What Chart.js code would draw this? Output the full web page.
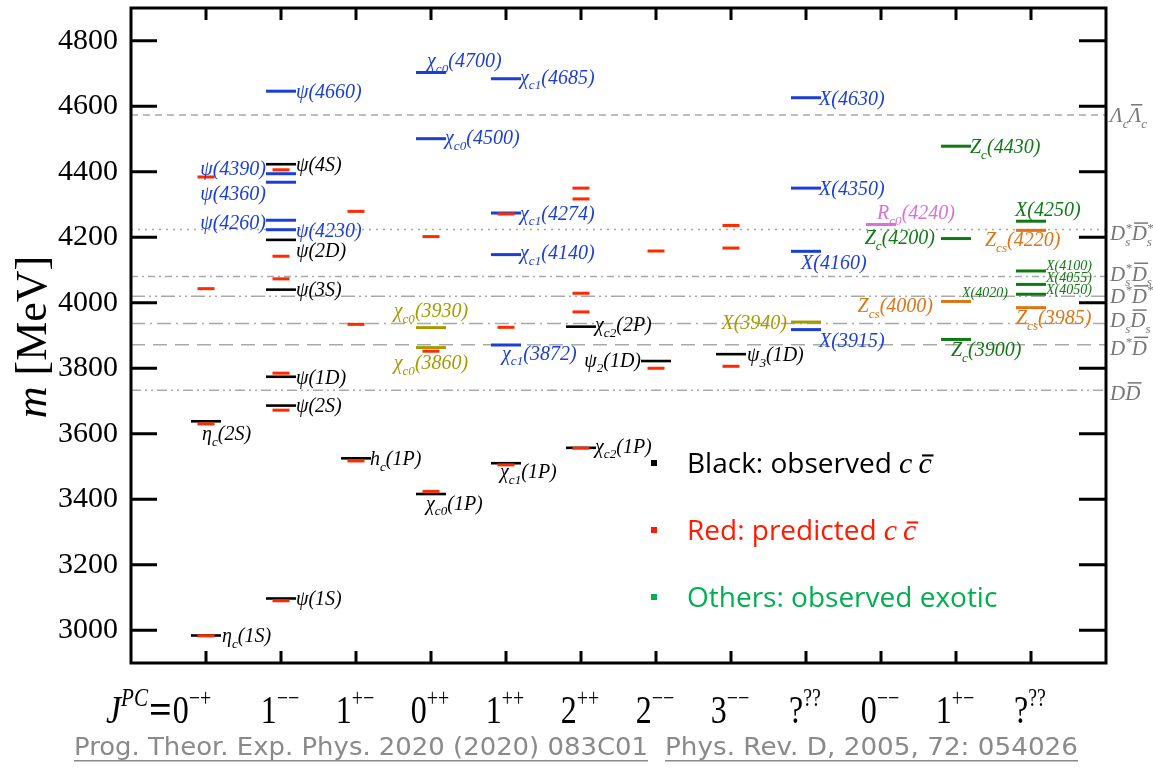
<!DOCTYPE html>
<html><head><meta charset="utf-8">
<script src="https://cdn.jsdelivr.net/npm/chart.js@4.4.1/dist/chart.umd.min.js"></script>
<style>html,body{margin:0;padding:0;background:#fff;overflow:hidden}canvas{display:block}</style>
</head><body><canvas id="c" width="1153" height="768"></canvas>
<script>
// ---------------- DATA ----------------
const jpcLabels = ['0^{−+}','1^{−−}','1^{+−}','0^{++}','1^{++}','2^{++}','2^{−−}','3^{−−}','?^{??}','0^{−−}','1^{+−}','?^{??}'];
const yTickValues = [3000,3200,3400,3600,3800,4000,4200,4400,4600,4800];

const observedCat  = [0,0,1,1,1,1,1,1,2,3,4,5,5,6,7];
const observedMass = [2984,3638,3097,3686,3774,4040,4192,4423,3525,3416,3510,3557,3927,3822,3843];
const observedName = ['η_{c}(1S)','η_{c}(2S)','ψ(1S)','ψ(2S)','ψ(1D)','ψ(3S)','ψ(2D)','ψ(4S)','h_{c}(1P)','χ_{c0}(1P)','χ_{c1}(1P)','χ_{c2}(1P)','χ_{c2}(2P)','ψ_{2}(1D)','ψ_{3}(1D)'];

const predictedCat  = [0,0,0,0, 1,1,1,1,1,1, 2,2,2, 3,3,3, 4,4,4, 5,5,5,5,5, 6,6, 7,7,7];
const predictedMass = [2983,3630,4043,4384, 3090,3672,3785,4073,4142,4406, 3517,3934,4279, 3424,3852,4202, 3505,3925,4271, 3556,3972,4029,4317,4350, 3800,4158, 3806,4167,4236];

const exoticCat  = [1,1,1,1,1, 3,3, 4,4,4,4, 8,8,8,8, 3,3,8, 9, 10,10,10, 11,11,11,11, 10,11,11];
const exoticMass = [4223,4252,4368,4394,4646, 4501,4703, 3871,4147,4274,4684, 4626,4350,4157,3918, 3863,3924,3941, 4239, 4478,4196,3888, 4249,4097,4056,4026, 4004,4221,3985];
const exoticName = ['ψ(4230)','ψ(4260)','ψ(4360)','ψ(4390)','ψ(4660)','χ_{c0}(4500)','χ_{c0}(4700)','χ_{c1}(3872)','χ_{c1}(4140)','χ_{c1}(4274)','χ_{c1}(4685)','X(4630)','X(4350)','X(4160)','X(3915)',
  'χ_{c0}(3860)','χ_{c0}(3930)','X(3940)','R_{c0}(4240)','Z_{c}(4430)','Z_{c}(4200)','Z_{c}(3900)','X(4250)','X(4100)','X(4055)','X(4050)','Z_{cs}(4000)','Z_{cs}(4220)','Z_{cs}(3985)'];
const exoticGroup = ['b','b','b','b','b','b','b','b','b','b','b','b','b','b','b','o','o','o','p','g','g','g','g','g','g','g','r','r','r'];

const noteCat = [10];
const noteMass = [4024];
const noteName = ['X(4020)'];
const noteGroup = ['g'];

const thresholdMass = [4573,4224,4080,4020,3937,3872,3733];
const thresholdName = ['Λ_{c}~{Λ}_{c}','D_{s}^{*}~{D}_{s}^{*}','D_{s}^{*}~{D}_{s}','D^{*}~{D}^{*}','D_{s}~{D}_{s}','D^{*}~{D}','D~{D}'];

const legendText = ['Black: observed ','Red: predicted ','Others: observed exotic'];
const references = ['Prog. Theor. Exp. Phys. 2020 (2020) 083C01','Phys. Rev. D, 2005, 72: 054026'];

// ---------------- STYLE / LAYOUT ----------------
const SERIF = '"Liberation Serif","Times New Roman",serif';
const groupColor = {b:'#1b3ed6', o:'#a39c00', p:'#d672d8', g:'#0f7a14', r:'#dd7416', k:'#000000'};
const thresholdDash = [[7,5],[2,5],[7,4,2,4],[14,4,2,4,2,4],[14,5,2,5],[14,8],[10,4,2,4,2,4]];
const thresholdDy = [0,4,-3,0,-3,3,3];
// [align, dx, dy(center), fontSize]
const place = {
 'η_{c}(1S)':['left',16,0],'η_{c}(2S)':['left',-4,12],'ψ(1S)':['left',15,0],'ψ(2S)':['left',15,0],'ψ(1D)':['left',15,0],
 'ψ(3S)':['left',15,0],'ψ(2D)':['left',15,10],'ψ(4S)':['left',15,0],'h_{c}(1P)':['left',14,0],'χ_{c0}(1P)':['left',-5,9],
 'χ_{c1}(1P)':['left',-6,8],'χ_{c2}(1P)':['left',14,-2],'χ_{c2}(2P)':['left',14,-2],'ψ_{2}(1D)':['right',-15,-1],'ψ_{3}(1D)':['left',16,0],
 'ψ(4230)':['left',15,0],'ψ(4260)':['right',-15,2],'ψ(4360)':['right',-15,11],'ψ(4390)':['right',-15,-6],'ψ(4660)':['left',15,0],
 'χ_{c0}(4500)':['left',14,-1],'χ_{c0}(4700)':['left',-4,-12],'χ_{c1}(3872)':['left',-4,8],'χ_{c1}(4140)':['left',14,-2],
 'χ_{c1}(4274)':['left',14,0],'χ_{c1}(4685)':['left',14,-2],'X(4630)':['left',13,0],'X(4350)':['left',13,0],'X(4160)':['left',-5,11],
 'X(3915)':['left',13,11],'χ_{c0}(3860)':['center',0,15],'χ_{c0}(3930)':['center',0,-17],'X(3940)':['right',-19,0],
 'R_{c0}(4240)':['left',-4,-12],'Z_{c}(4430)':['left',14,0],'Z_{c}(4200)':['right',-21,-1],'Z_{c}(3900)':['left',-5,10],
 'X(4250)':['left',-16,-12],'X(4100)':['left',15,-6,14],'X(4055)':['left',15,-7,14],'X(4050)':['left',15,-5,14],'X(4020)':['left',6,-3,14],
 'Z_{cs}(4000)':['right',-23,4],'Z_{cs}(4220)':['left',-46,9],'Z_{cs}(3985)':['left',-15,10]
};

// ---------------- RICH TEXT ----------------
function parseRich(s){
  const re=/(_\{[^}]*\}|\^\{[^}]*\}|~\{[^}]*\}|[^_^~]+)/g; let m; const out=[];
  while((m=re.exec(s))){ const t=m[0];
    if(t[0]==='_') out.push({t:t.slice(2,-1),k:'sub'});
    else if(t[0]==='^') out.push({t:t.slice(2,-1),k:'sup'});
    else if(t[0]==='~') out.push({t:t.slice(2,-1),k:'bar'});
    else out.push({t:t,k:'n'});
  }
  return out;
}
function layoutRich(ctx,segs,size,fam,style,scr){
  let x=0,prev=null,sStart=0,sW=0; const items=[];
  for(const s of segs){
    const script=s.k==='sub'||s.k==='sup';
    const fs=script?size*(scr||0.66):size;
    const font=`${style} ${fs}px ${fam}`; ctx.font=font;
    const w=ctx.measureText(s.t).width; let sx;
    if(script&&prev&&(prev.k==='sub'||prev.k==='sup')&&prev.k!==s.k){ sx=sStart; sW=Math.max(sW,w); x=sStart+sW; }
    else { sx=x; if(script){sStart=x;sW=w;} x+=w; }
    const dy=s.k==='sub'?size*0.28:(s.k==='sup'?-size*0.42:0);
    items.push({t:s.t,font:font,x:sx,dy:dy,w:w,bar:s.k==='bar'});
    prev=s;
  }
  return {items:items,width:x};
}
function drawRich(ctx,str,x,y,o){
  const size=o.size,fam=o.family||SERIF,style=o.style||'italic',sx=o.scaleX||1;
  const L=layoutRich(ctx,parseRich(str),size,fam,style,o.scr);
  const x0=o.align==='right'?x-L.width*sx:(o.align==='center'?x-L.width*sx/2:x);
  const barH=o.barH||0.86;
  ctx.save(); ctx.translate(x0,y); ctx.scale(sx,1);
  ctx.fillStyle=o.color; ctx.textBaseline='alphabetic'; ctx.textAlign='left';
  for(const it of L.items){ ctx.font=it.font; ctx.fillText(it.t,it.x,it.dy);
    if(it.bar){ ctx.fillRect(it.x+size*0.12,-size*barH,it.w-size*0.06,Math.max(1.5,size*0.07)); } }
  ctx.restore();
  return L.width*sx;
}

// ---------------- PLUGIN ----------------
const spectrumPlugin = {
 id:'spectrum',
 beforeDatasetsDraw(chart){
   const {ctx,chartArea:a,scales:{y}}=chart;
   ctx.save(); ctx.strokeStyle='#a9a9a9'; ctx.lineWidth=1.5;
   thresholdMass.forEach((m,i)=>{ const py=y.getPixelForValue(m); ctx.setLineDash(thresholdDash[i]);
     ctx.beginPath(); ctx.moveTo(a.left,py); ctx.lineTo(a.right,py); ctx.stroke(); });
   ctx.restore();
 },
 afterDatasetsDraw(chart){
   const {ctx,chartArea:a,scales:{x,y}}=chart;
   const lbl=(cat,mass,name,color)=>{
     const p=place[name]||['left',15,0]; const size=p[3]||20;
     const px=x.getPixelForValue(cat)+p[1], py=y.getPixelForValue(mass)+p[2]+size*0.34;
     drawRich(ctx,name,px,py,{size:size,color:color,align:p[0]});
   };
   observedName.forEach((n,i)=>lbl(observedCat[i],observedMass[i],n,'#000'));
   exoticName.forEach((n,i)=>lbl(exoticCat[i],exoticMass[i],n,groupColor[exoticGroup[i]]));
   noteName.forEach((n,i)=>lbl(noteCat[i],noteMass[i],n,groupColor[noteGroup[i]]));
   // frame and inward ticks
   ctx.save(); ctx.strokeStyle='#000'; ctx.lineWidth=3; ctx.setLineDash([]);
   ctx.strokeRect(a.left,a.top,a.right-a.left,a.bottom-a.top);
   ctx.beginPath();
   yTickValues.forEach(v=>{ const py=y.getPixelForValue(v); ctx.moveTo(a.left,py); ctx.lineTo(a.left+26,py); ctx.moveTo(a.right,py); ctx.lineTo(a.right-27,py); });
   jpcLabels.forEach((l,i)=>{ const px=x.getPixelForValue(i); ctx.moveTo(px,a.top); ctx.lineTo(px,a.top+12); ctx.moveTo(px,a.bottom); ctx.lineTo(px,a.bottom-12); });
   ctx.stroke(); ctx.restore();
   // legend
   const legColors=['#000000','#ff1a00','#00b050'];
   const legY=[463,530,597];
   ctx.save();
   legendText.forEach((t,i)=>{
     ctx.fillStyle=legColors[i]; ctx.fillRect(651,legY[i]-3,6,6);
     ctx.font='28px "Open Sans","Noto Sans",sans-serif'; ctx.textBaseline='alphabetic'; ctx.textAlign='left';
     ctx.fillText(t,687,legY[i]+10);
     if(i<2){ const w=ctx.measureText(t).width; drawRich(ctx,'c\u2009~{c}',687+w,legY[i]+10,{size:30,color:legColors[i],align:'left',barH:0.62}); }
   });
   ctx.restore();
 },
 afterDraw(chart){
   const {ctx,chartArea:a,scales:{x,y}}=chart;
   // threshold labels
   thresholdName.forEach((n,i)=>{ const py=y.getPixelForValue(thresholdMass[i])+thresholdDy[i]+7;
     drawRich(ctx,n,a.right+4,py,{size:21,color:'#777777',align:'left',scr:0.62}); });
   // J^PC row
   jpcLabels.forEach((l,i)=>{
     const px=x.getPixelForValue(i);
     if(i===0){ const c=px-14; const w=drawRich(ctx,l,c,723,{size:40,style:'normal',color:'#000',align:'center',scaleX:0.8,scr:0.62});
       const w2=drawRich(ctx,'=',c-w/2-1,723,{size:40,style:'bold',color:'#000',align:'right',scaleX:1.0});
       drawRich(ctx,'J^{PC}',c-w/2-w2-2,723,{size:40,style:'italic',color:'#000',align:'right',scaleX:0.85,scr:0.62});
     } else drawRich(ctx,l,px-1,723,{size:40,style:'normal',color:'#000',align:'center',scaleX:0.8,scr:0.62});
   });
   // y axis title
   ctx.save(); ctx.translate(34,337); ctx.rotate(-Math.PI/2);
   ctx.fillStyle='#000'; ctx.textBaseline='middle';
   ctx.font='italic 44px '+SERIF; const wm=ctx.measureText('m ').width;
   ctx.font='44px '+SERIF; const wr=ctx.measureText('[MeV]').width;
   const x0=-(wm+wr)/2; ctx.font='italic 44px '+SERIF; ctx.fillText('m',x0,0);
   ctx.font='44px '+SERIF; ctx.fillText('[MeV]',x0+wm,0);
   ctx.restore();
   // references
   const refX=[[74,648],[665,1078]];
   ctx.save(); ctx.fillStyle='#8a8a8a'; ctx.font='25px "DejaVu Sans",sans-serif'; ctx.textBaseline='alphabetic';
   references.forEach((r,i)=>{ const w=ctx.measureText(r).width; const tw=refX[i][1]-refX[i][0];
     ctx.save(); ctx.translate(refX[i][0],755); ctx.scale(tw/w,1); ctx.fillText(r,0,0); ctx.restore();
     ctx.fillRect(refX[i][0],760,tw,1.5); });
   ctx.restore();
 }
};

const mk=(cats,masses,color,radius,width,order)=>({
  data:cats.map((c,i)=>({x:c,y:masses[i]})), showLine:false, pointStyle:'line',
  pointRadius:radius, pointHoverRadius:radius, borderColor:color, pointBorderColor:color,
  borderWidth:width, pointBorderWidth:width, pointHoverBorderWidth:width, backgroundColor:color, order:order
});
const groups=['b','o','p','g','r'];
const datasets=[mk(predictedCat,predictedMass,'#ff2a00',8.5,3,0), mk(observedCat,observedMass,'#000000',15,2.6,1)];
groups.forEach(g=>{ const idx=exoticGroup.map((v,i)=>v===g?i:-1).filter(i=>i>=0);
  datasets.push(mk(idx.map(i=>exoticCat[i]),idx.map(i=>exoticMass[i]),groupColor[g],15,3,2)); });

new Chart(document.getElementById('c'),{
  type:'scatter',
  data:{datasets:datasets},
  options:{
    responsive:false, animation:false, events:[],
    layout:{autoPadding:false,padding:{top:8,right:47,bottom:105,left:0}},
    plugins:{legend:{display:false},tooltip:{enabled:false}},
    scales:{
      x:{type:'linear',min:-1,max:12,display:false},
      y:{type:'linear',min:2900,max:4900,
         afterBuildTicks:s=>{ s.ticks=yTickValues.map(v=>({value:v})); },
         afterFit:s=>{ s.width=131; s.paddingTop=0; s.paddingBottom=0; },
         grid:{display:false,drawTicks:false}, border:{display:false},
         ticks:{font:{family:'Liberation Serif',size:30},color:'#000',padding:13,callback:v=>String(v)}}
    }
  },
  plugins:[spectrumPlugin]
});
</script></body></html>
